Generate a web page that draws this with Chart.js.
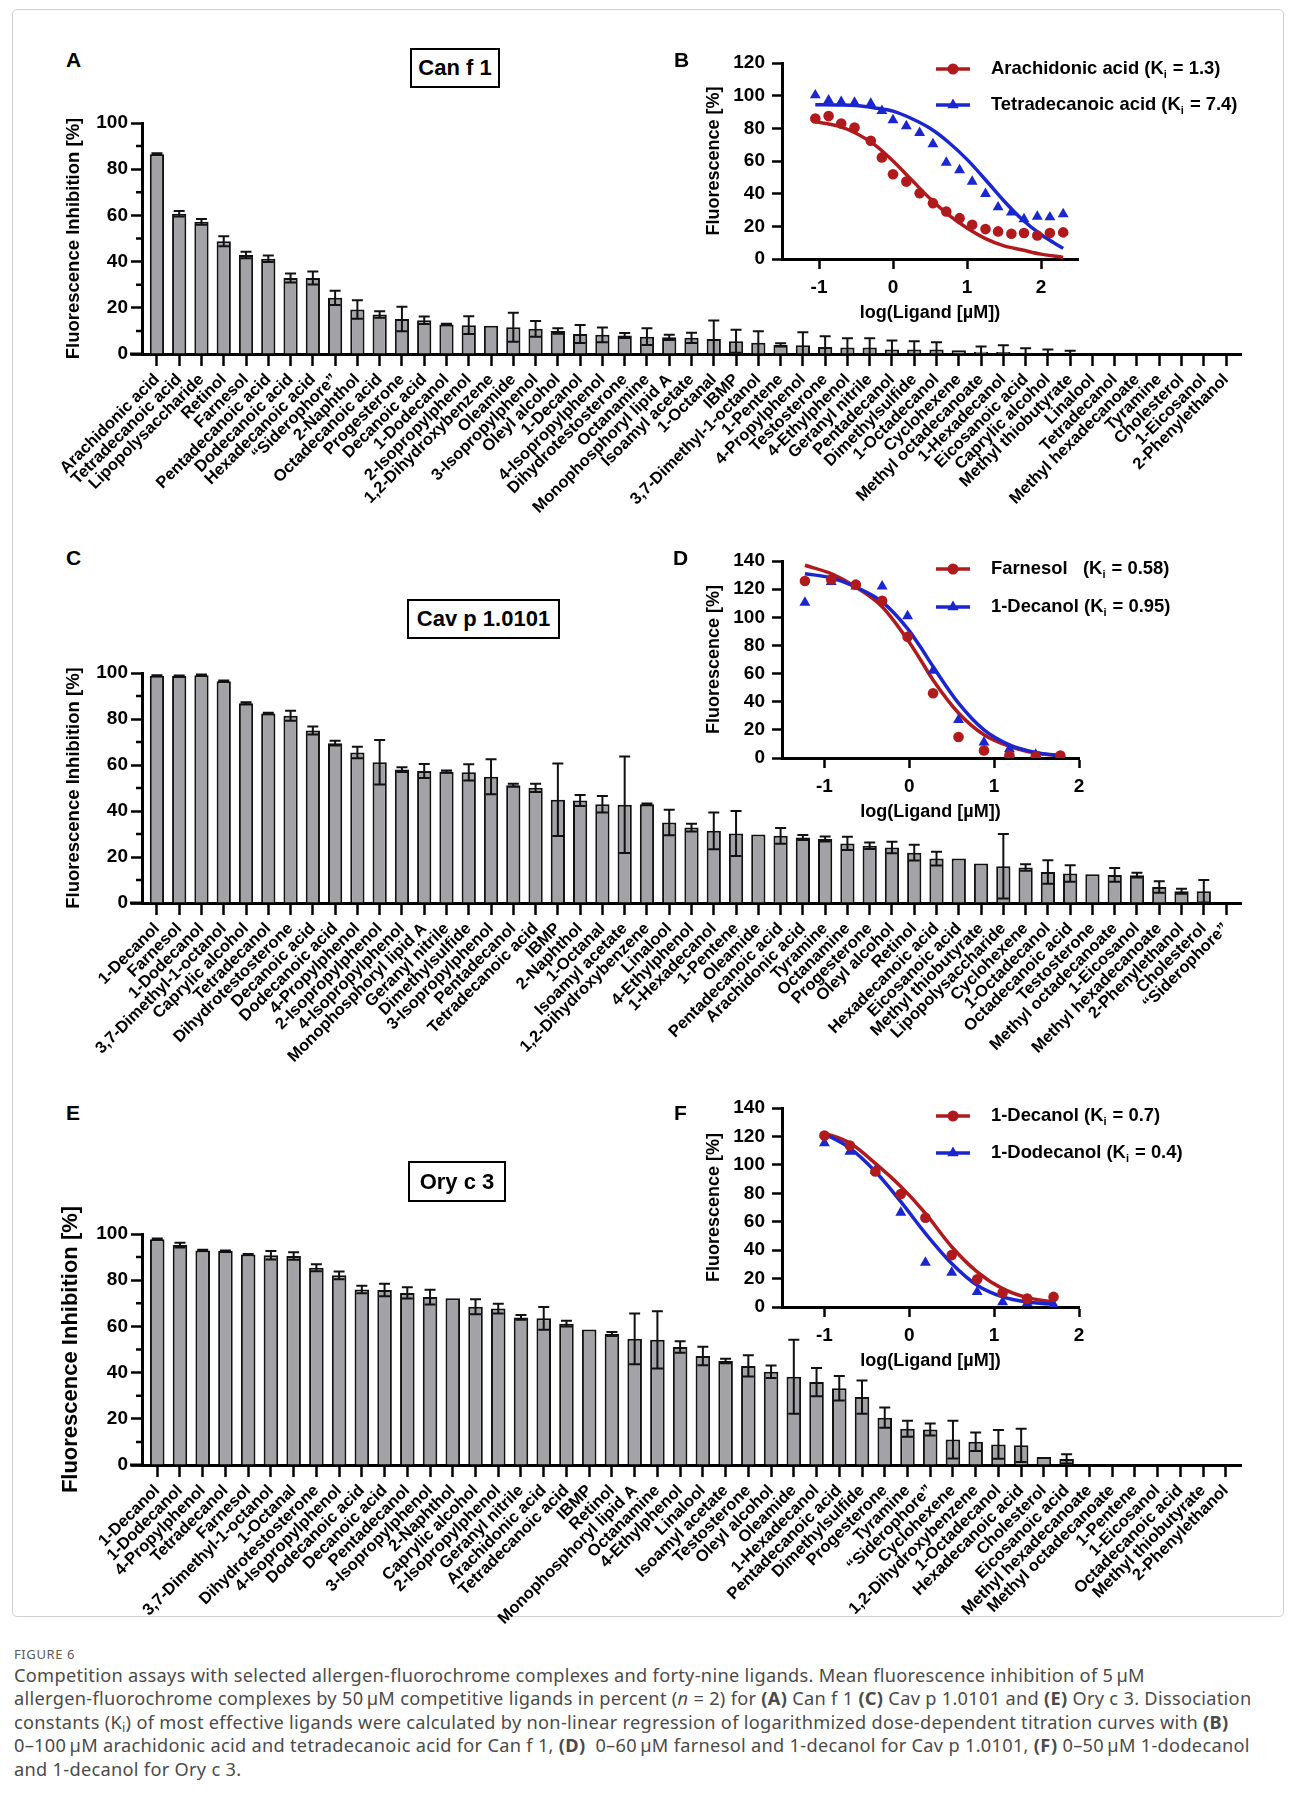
<!DOCTYPE html>
<html>
<head>
<meta charset="utf-8">
<title>Figure 6</title>
<script src="https://cdn.jsdelivr.net/npm/chart.js@4.4.1/dist/chart.umd.min.js"></script>
<style>
  body { margin: 0; background: #fff; }
  #page { position: relative; width: 1295px; height: 1803px; overflow: hidden; font-family: "Liberation Sans", Arial, sans-serif; color: #000; }
  .frame { position: absolute; left: 12px; top: 9px; width: 1270px; height: 1606px; border: 1px solid #cfcfcf; border-radius: 5px; }
  .box { position: absolute; }
  .box canvas { display: block; }
  .letter { position: absolute; font-weight: bold; font-size: 21px; line-height: 21px; }
  .tbox { position: absolute; border: 2px solid #000; box-sizing: border-box; font-weight: bold; font-size: 22px; display: flex; align-items: center; justify-content: center; }
  .figno { position: absolute; left: 14px; top: 1645px; font-family: "Noto Sans", sans-serif; font-size: 13px; letter-spacing: 0.6px; color: #5a5a5a; }
  .caption { position: absolute; left: 14px; top: 1664px; font-family: "Noto Sans", sans-serif; font-size: 18.2px; letter-spacing: 0.3px; line-height: 23.4px; color: #4a4a4a; white-space: nowrap; }
  .caption sub { font-size: 0.7em; line-height: 0; vertical-align: -0.25em; }
</style>
</head>
<body>
<div id="page">
  <div class="frame"></div>

  <div class="box" style="left:20px;top:100px"><canvas id="chartA" width="1240" height="440"></canvas></div>
  <div class="box" style="left:20px;top:640px"><canvas id="chartC" width="1240" height="440"></canvas></div>
  <div class="box" style="left:20px;top:1200px"><canvas id="chartE" width="1240" height="440"></canvas></div>
  <div class="box" style="left:700px;top:40px"><canvas id="chartB" width="560" height="291"></canvas></div>
  <div class="box" style="left:700px;top:530px"><canvas id="chartD" width="560" height="300"></canvas></div>
  <div class="box" style="left:700px;top:1080px"><canvas id="chartF" width="560" height="299"></canvas></div>

  <div class="letter" style="left:66px;top:49px">A</div>
  <div class="letter" style="left:674px;top:49px">B</div>
  <div class="letter" style="left:66px;top:547px">C</div>
  <div class="letter" style="left:673px;top:547px">D</div>
  <div class="letter" style="left:66px;top:1102px">E</div>
  <div class="letter" style="left:674px;top:1102px">F</div>

  <div class="tbox" style="left:410px;top:48px;width:90px;height:40px">Can f 1</div>
  <div class="tbox" style="left:407px;top:599px;width:153px;height:40px">Cav p 1.0101</div>
  <div class="tbox" style="left:408px;top:1161px;width:98px;height:41px">Ory c 3</div>

  <div class="figno">FIGURE 6</div>
  <div class="caption">
    <div>Competition assays with selected allergen-fluorochrome complexes and forty-nine ligands. Mean fluorescence inhibition of 5&thinsp;µM</div>
    <div>allergen-fluorochrome complexes by 50&thinsp;µM competitive ligands in percent (<i>n</i> = 2) for <b>(A)</b> Can f 1 <b>(C)</b> Cav p 1.0101 and <b>(E)</b> Ory c 3. Dissociation</div>
    <div>constants (K<sub>i</sub>) of most effective ligands were calculated by non-linear regression of logarithmized dose-dependent titration curves with <b>(B)</b></div>
    <div>0–100&thinsp;µM arachidonic acid and tetradecanoic acid for Can f 1, <b>(D)</b>&nbsp; 0–60&thinsp;µM farnesol and 1-decanol for Cav p 1.0101, <b>(F)</b> 0–50&thinsp;µM 1-dodecanol</div>
    <div>and 1-decanol for Ory c 3.</div>
  </div>
</div>

<script>
// ---------- Panel A: Can f 1 ----------
const canfLigands = ['Arachidonic acid', 'Tetradecanoic acid', 'Lipopolysaccharide', 'Retinol', 'Farnesol',
  'Pentadecanoic acid', 'Dodecanoic acid', 'Hexadecanoic acid', '\u201CSiderophore\u201D', '2-Naphthol',
  'Octadecanoic acid', 'Progesterone', 'Decanoic acid', '1-Dodecanol', '2-Isopropylphenol',
  '1,2-Dihydroxybenzene', 'Oleamide', '3-Isopropylphenol', 'Oleyl alcohol', '1-Decanol',
  '4-Isopropylphenol', 'Dihydrotestosterone', 'Octanamine', 'Monophosphoryl lipid A', 'Isoamyl acetate',
  '1-Octanal', 'IBMP', '3,7-Dimethyl-1-octanol', '1-Pentene', '4-Propylphenol',
  'Testosterone', '4-Ethylphenol', 'Geranyl nitrile', 'Pentadecanol', 'Dimethylsulfide',
  '1-Octadecanol', 'Cyclohexene', 'Methyl octadecanoate', '1-Hexadecanol', 'Eicosanoic acid',
  'Caprylic alcohol', 'Methyl thiobutyrate', 'Linalool', 'Tetradecanol', 'Methyl hexadecanoate',
  'Tyramine', 'Cholesterol', '1-Eicosanol', '2-Phenylethanol'];
const canfMean = [86.5, 60.7, 57.2, 48.8, 42.9, 41.2, 32.9, 32.9, 24.3, 19.3,
  17.1, 15.2, 14.6, 12.8, 12.5, 12.2, 11.6, 10.9, 10.0, 8.7,
  8.3, 8.0, 7.5, 7.2, 7.0, 6.5, 5.5, 4.9, 3.9, 3.8,
  3.0, 2.8, 2.8, 2.0, 2.0, 1.9, 1.6, 1.0, 0.9, 0.5,
  0.2, 0, 0, 0, 0, 0, 0, 0, 0];
const canfErr = [0.4, 1.2, 1.2, 2.2, 1.4, 1.4, 1.9, 2.8, 3.1, 4.0,
  1.4, 5.3, 1.6, 0.3, 3.8, 0, 6.3, 3.4, 1.2, 3.9,
  3.2, 1.1, 3.6, 1.1, 2.2, 8.0, 5.0, 5.0, 0.7, 5.6,
  4.7, 4.0, 4.0, 3.8, 3.5, 3.2, 0, 2.3, 2.9, 2.0,
  1.7, 1.4, 0, 0, 0, 0, 0, 0, 0];

// ---------- Panel C: Cav p 1.0101 ----------
const cavpLigands = ['1-Decanol', 'Farnesol', '1-Dodecanol', '3,7-Dimethyl-1-octanol', 'Caprylic alcohol',
  'Tetradecanol', 'Dihydrotestosterone', 'Decanoic acid', 'Dodecanoic acid', '4-Propylphenol',
  '2-Isopropylphenol', '4-Isopropylphenol', 'Monophosphoryl lipid A', 'Geranyl nitrile', 'Dimethylsulfide',
  '3-Isopropylphenol', 'Pentadecanol', 'Tetradecanoic acid', 'IBMP', '2-Naphthol',
  '1-Octanal', 'Isoamyl acetate', '1,2-Dihydroxybenzene', 'Linalool', '4-Ethylphenol',
  '1-Hexadecanol', '1-Pentene', 'Oleamide', 'Pentadecanoic acid', 'Arachidonic acid',
  'Tyramine', 'Octanamine', 'Progesterone', 'Oleyl alcohol', 'Retinol',
  'Hexadecanoic acid', 'Eicosanoic acid', 'Methyl thiobutyrate', 'Lipopolysaccharide', 'Cyclohexene',
  '1-Octadecanol', 'Octadecanoic acid', 'Testosterone', 'Methyl octadecanoate', '1-Eicosanol',
  'Methyl hexadecanoate', '2-Phenylethanol', 'Cholesterol', '\u201CSiderophore\u201D'];
const cavpMean = [98.8, 98.7, 99.0, 96.4, 86.8, 82.4, 81.4, 75.0, 69.5, 65.4,
  61.2, 58.0, 57.4, 57.1, 56.8, 54.9, 51.2, 50.1, 44.9, 44.6,
  42.9, 42.7, 42.9, 35.0, 32.8, 31.4, 30.2, 29.8, 29.2, 28.5,
  27.8, 25.9, 24.9, 24.1, 21.9, 19.3, 19.3, 17.2, 16.0, 15.4,
  13.5, 12.8, 12.5, 12.2, 12.1, 7.0, 5.1, 5.1, 0];
const cavpErr = [0.2, 0.2, 0.3, 0.3, 0.5, 0.3, 2.2, 1.7, 1.0, 2.5,
  9.7, 1.0, 3.0, 0.5, 3.5, 7.6, 0.7, 1.8, 15.8, 2.4,
  3.6, 21.0, 0.4, 5.5, 1.7, 8.0, 9.8, 0, 3.4, 1.1,
  1.1, 2.9, 1.4, 2.5, 3.4, 3.0, 0, 0, 14.0, 1.4,
  5.1, 3.6, 0, 3.0, 1.0, 2.5, 1.1, 4.9, 0];

// ---------- Panel E: Ory c 3 ----------
const orycLigands = ['1-Decanol', '1-Dodecanol', '4-Propylphenol', 'Tetradecanol', 'Farnesol',
  '3,7-Dimethyl-1-octanol', '1-Octanal', 'Dihydrotestosterone', '4-Isopropylphenol', 'Dodecanoic acid',
  'Decanoic acid', 'Pentadecanol', '3-Isopropylphenol', '2-Naphthol', 'Caprylic alcohol',
  '2-Isopropylphenol', 'Geranyl nitrile', 'Arachidonic acid', 'Tetradecanoic acid', 'IBMP',
  'Retinol', 'Monophosphoryl lipid A', 'Octanamine', '4-Ethylphenol', 'Linalool',
  'Isoamyl acetate', 'Testosterone', 'Oleyl alcohol', 'Oleamide', '1-Hexadecanol',
  'Pentadecanoic acid', 'Dimethylsulfide', 'Progesterone', 'Tyramine', '\u201CSiderophore\u201D',
  'Cyclohexene', '1,2-Dihydroxybenzene', '1-Octadecanol', 'Hexadecanoic acid', 'Cholesterol',
  'Eicosanoic acid', 'Methyl hexadecanoate', 'Methyl octadecanoate', '1-Pentene', '1-Eicosanol',
  'Octadecanoic acid', 'Methyl thiobutyrate', '2-Phenylethanol'];
const orycMean = [97.7, 95.2, 92.9, 92.6, 91.1, 90.8, 90.5, 85.4, 82.1, 76.0,
  75.8, 74.5, 72.7, 72.2, 68.5, 67.7, 63.9, 63.5, 61.2, 58.7,
  56.7, 54.6, 54.2, 51.1, 47.2, 45.0, 42.9, 40.4, 38.2, 35.9,
  33.2, 29.4, 20.5, 15.7, 15.4, 11.0, 10.1, 8.9, 8.5, 3.5,
  2.6, 0, 0, 0, 0, 0, 0, 0];
const orycErr = [0.3, 1.0, 0.3, 0.3, 0.2, 1.8, 1.6, 1.5, 1.7, 1.6,
  2.7, 2.4, 3.2, 0, 3.2, 2.1, 1.0, 4.9, 1.2, 0,
  0.9, 11.0, 12.4, 2.5, 4.0, 1.0, 4.6, 2.7, 16.0, 6.1,
  5.3, 7.2, 4.4, 3.5, 2.6, 8.2, 4.0, 6.2, 7.2, 0,
  2.0, 0, 0, 0, 0, 0, 0, 0];

const pctTicksMinor = [10, 30, 50, 70, 90];
const logTicks = [-1, 0, 1, 2];

// ---------- Panel B: Can f 1 titration ----------
const bLogConc = [-1.05, -0.87, -0.70, -0.52, -0.30, -0.15, 0.0, 0.18, 0.36, 0.54,
  0.72, 0.90, 1.07, 1.25, 1.42, 1.60, 1.77, 1.95, 2.12, 2.30];
const bArachidonic = [86.0, 87.5, 83.0, 80.5, 72.4, 62.2, 51.9, 47.4, 40.3, 34.2,
  29.1, 25.0, 20.9, 18.3, 16.9, 15.5, 15.9, 14.4, 15.9, 16.3];
const bTetradecanoic = [100.3, 97.2, 96.2, 95.8, 95.2, 90.7, 85.0, 81.4, 77.3, 70.4,
  59.0, 54.5, 47.4, 39.9, 31.7, 28.5, 24.4, 26.0, 25.6, 27.5];
const bFitX = [-1.05, -0.75, -0.5, -0.25, 0, 0.25, 0.5, 0.75, 1, 1.25, 1.5, 1.75, 2, 2.3];
const bFitArachidonic = [84, 81.5, 77, 70, 60, 48.5, 37, 27, 19, 12.5, 8, 5.5, 3, 1];
const bFitTetradecanoic = [94.5, 94.3, 94, 92.5, 90.5, 86, 80, 71.5, 61, 48.5, 35.5, 24, 15, 6.5];
const bNames = ['Arachidonic acid ', 'Tetradecanoic acid '];
const bKi = ['1.3', '7.4'];

// ---------- Panel D: Cav p 1.0101 titration ----------
const dLogConc = [-1.23, -0.92, -0.63, -0.32, -0.02, 0.28, 0.58, 0.88, 1.18, 1.49, 1.78];
const dFarnesol = [125.8, 126.8, 123.2, 111.7, 86.2, 46.0, 14.9, 5.4, 1.7, 1.2, 1.7];
const dDecanol = [110.5, 125.1, 122.0, 122.0, 100.8, 62.1, 27.1, 11.1, 6.4, 2.4, 0.5];
const dFitX = [-1.23, -0.92, -0.63, -0.32, -0.02, 0.13, 0.28, 0.58, 0.88, 1.18, 1.49, 1.78];
const dFitFarnesol = [137, 131, 121.5, 107.5, 84, 70, 55.5, 32, 16.5, 8.3, 3.5, 1.7];
const dFitDecanol = [131, 128, 121.5, 111, 92, 79, 65, 39, 20, 9.4, 4, 1.7];
const dNames = ['Farnesol   ', '1-Decanol '];
const dKi = ['0.58', '0.95'];

// ---------- Panel F: Ory c 3 titration ----------
const fLogConc = [-1.0, -0.7, -0.4, -0.1, 0.19, 0.5, 0.8, 1.1, 1.39, 1.7];
const fDecanol = [120.7, 113.6, 95.3, 79.5, 62.8, 36.5, 19.5, 10.1, 5.9, 7.1];
const fDodecanol = [115.3, 109.4, 96.0, 66.4, 31.3, 24.2, 10.6, 3.5, 2.8, 1.6];
const fFitDecanol = [122.4, 115.3, 101, 84.7, 65.9, 42.4, 24.7, 12.9, 6.6, 3.5];
const fFitDodecanol = [121.9, 111.8, 95.3, 74.1, 51.8, 30.6, 15.3, 7.1, 3.5, 1.9];
const fNames = ['1-Decanol ', '1-Dodecanol '];
const fKi = ['0.7', '0.4'];


const FONT = '"Liberation Sans", Arial, sans-serif';
const RED = '#b01a1d';
const BLUE = '#1a26cf';
const BAR_GREY = '#a2a2a7';


// error bars drawn from the y scale of the chart
const errorBars = {
  id: 'errorBars',
  afterDatasetsDraw(chart) {
    const ds = chart.data.datasets[0];
    const meta = chart.getDatasetMeta(0);
    const y = chart.scales.y;
    const ctx = chart.ctx;
    ctx.save();
    ctx.strokeStyle = '#111';
    ctx.lineWidth = 2;
    meta.data.forEach((bar, i) => {
      const e = ds.errors[i];
      if (!e) return;
      const v = ds.data[i].y;
      const top = y.getPixelForValue(v + e);
      const bot = y.getPixelForValue(Math.max(0, v - e));
      ctx.beginPath();
      ctx.moveTo(bar.x, top); ctx.lineTo(bar.x, bot);
      ctx.moveTo(bar.x - 5.5, top); ctx.lineTo(bar.x + 5.5, top);
      if (v - e > 0) { ctx.moveTo(bar.x - 5.5, bot); ctx.lineTo(bar.x + 5.5, bot); }
      ctx.stroke();
    });
    ctx.restore();
  }
};

// minor y ticks + the little x-axis stub left of the y axis (prism style)
const prismAxis = {
  id: 'prismAxis',
  afterDraw(chart, args, opts) {
    const {ctx, chartArea: a} = chart;
    const y = chart.scales.y;
    ctx.save();
    ctx.strokeStyle = '#000';
    ctx.lineWidth = 2.5;
    ctx.beginPath();
    (opts.minor || []).forEach(v => {
      const py = y.getPixelForValue(v);
      ctx.moveTo(a.left - 6, py); ctx.lineTo(a.left, py);
    });
    ctx.stroke();
    if (opts.stub) {
      ctx.lineWidth = 3;
      ctx.beginPath();
      ctx.moveTo(a.left - opts.stub, a.bottom); ctx.lineTo(a.left, a.bottom);
      ctx.stroke();
    }
    ctx.restore();
  }
};

// legend with line + marker and a subscript i
const insetLegend = {
  id: 'insetLegend',
  afterDraw(chart, args, opts) {
    if (!opts.items) return;
    const ctx = chart.ctx;
    ctx.save();
    opts.items.forEach((it, k) => {
      const y = opts.rows[k];
      ctx.strokeStyle = it.color;
      ctx.lineWidth = 3.5;
      ctx.beginPath(); ctx.moveTo(opts.x0, y); ctx.lineTo(opts.x1, y); ctx.stroke();
      ctx.fillStyle = it.color;
      const cx = (opts.x0 + opts.x1) / 2;
      ctx.beginPath();
      if (it.style === 'circle') {
        ctx.arc(cx, y, 5.5, 0, Math.PI * 2);
      } else {
        const r = 6.5;
        for (let j = 0; j < 3; j++) {
          const ang = j * 2 * Math.PI / 3;
          const px = cx + Math.sin(ang) * r, py = y - Math.cos(ang) * r;
          j === 0 ? ctx.moveTo(px, py) : ctx.lineTo(px, py);
        }
        ctx.closePath();
      }
      ctx.fill();

      ctx.fillStyle = '#000';
      ctx.textBaseline = 'middle';
      let tx = opts.tx;
      const a = it.name + '(K';
      ctx.font = 'bold 18.4px ' + FONT;
      ctx.fillText(a, tx, y);
      tx += ctx.measureText(a).width;
      ctx.font = 'bold 11px ' + FONT;
      ctx.fillText('i', tx, y + 6);
      tx += ctx.measureText('i').width + 1;
      ctx.font = 'bold 18.4px ' + FONT;
      ctx.fillText(' = ' + it.ki + ')', tx, y);
    });
    ctx.restore();
  }
};


function barChart(id, names, means, errs, o) {
  const n = names.length;
  return new Chart(document.getElementById(id), {
    type: 'bar',
    data: {
      datasets: [{
        data: means.map((v, i) => ({x: i, y: v})),
        errors: errs,
        backgroundColor: BAR_GREY,
        borderColor: '#111',
        borderWidth: 2,
        barPercentage: 0.64,
        categoryPercentage: 1
      }]
    },
    options: {
      responsive: false,
      animation: false,
      events: [],
      layout: { padding: { top: o.padTop, right: 19, left: 0, bottom: 0 } },
      plugins: {
        legend: { display: false },
        tooltip: { enabled: false },
        prismAxis: { minor: pctTicksMinor, stub: 12 }
      },
      scales: {
        x: {
          type: 'linear',
          min: -0.67,
          max: n - 1 + 0.67,
          offset: false,
          border: { display: true, color: '#000', width: 3 },
          grid: { display: true, offset: false, drawOnChartArea: false, drawTicks: true, tickLength: 12, tickWidth: 2.5, tickColor: '#000' },
          ticks: {
            stepSize: 1, includeBounds: false, autoSkip: false,
            minRotation: 45, maxRotation: 45, padding: 4,
            color: '#000', font: { family: FONT, size: 16.5, weight: 'bold' },
            callback: v => names[Math.round(v)] ?? ''
          },
          afterFit: s => { s.height = o.xHeight; s.paddingLeft = 0; s.paddingRight = 0; }
        },
        y: {
          min: 0, max: 100,
          border: { display: true, color: '#000', width: 3 },
          grid: { display: true, drawOnChartArea: false, drawTicks: true, tickLength: 11, tickWidth: 2.5, tickColor: '#000' },
          ticks: { stepSize: 20, padding: 3, color: '#000', font: { family: FONT, size: 19, weight: 'bold' } },
          title: {
            display: true, text: 'Fluorescence Inhibition [%]', color: '#000',
            font: { family: FONT, size: o.titleSize, weight: 'bold' },
            padding: { top: o.titlePad, bottom: 0 }
          },
          afterFit: s => { s.width = 122; }
        }
      }
    },
    plugins: [errorBars, prismAxis]
  });
}


function pts(xs, ys) {
  return xs.map((x, i) => ({x: x, y: ys[i]}));
}

function insetChart(id, o) {
  return new Chart(document.getElementById(id), {
    type: 'scatter',
    data: {
      datasets: [
        { data: pts(o.x, o.red), pointStyle: 'circle', pointRadius: 5.3, backgroundColor: RED, borderWidth: 0, pointBorderWidth: 0 },
        { data: pts(o.x, o.blue), pointStyle: 'triangle', pointRadius: 6.3, backgroundColor: BLUE, borderWidth: 0, pointBorderWidth: 0 },
        { data: pts(o.fitX, o.blueFit), showLine: true, pointRadius: 0, borderColor: BLUE, borderWidth: 3.5, cubicInterpolationMode: 'monotone' },
        { data: pts(o.fitX, o.redFit), showLine: true, pointRadius: 0, borderColor: RED, borderWidth: 3.5, cubicInterpolationMode: 'monotone' }
      ]
    },
    options: {
      responsive: false,
      animation: false,
      events: [],
      layout: { padding: { top: o.padTop, right: o.padRight, left: 0, bottom: 0 } },
      plugins: {
        legend: { display: false },
        tooltip: { enabled: false },
        insetLegend: {
          x0: 236, x1: 270, tx: 291, rows: o.rows,
          items: [
            { color: RED, style: 'circle', name: o.names[0], ki: o.ki[0] },
            { color: BLUE, style: 'triangle', name: o.names[1], ki: o.ki[1] }
          ]
        }
      },
      scales: {
        x: {
          type: 'linear', min: -1.5, max: o.xMax,
          border: { display: true, color: '#000', width: 3 },
          grid: { display: true, drawOnChartArea: false, drawTicks: true, tickLength: 10, tickWidth: 2.5, tickColor: '#000' },
          ticks: { maxRotation: 0, padding: 7, color: '#000', font: { family: FONT, size: 19, weight: 'bold' } },
          afterBuildTicks: s => { s.ticks = logTicks.map(v => ({value: v})); },
          title: { display: true, text: 'log(Ligand [µM])', color: '#000', font: { family: FONT, size: 18, weight: 'bold' }, padding: { top: 0, bottom: 7 } },
          afterFit: s => { s.height = 72; s.paddingLeft = 0; s.paddingRight = 0; }
        },
        y: {
          min: 0, max: o.yMax,
          border: { display: true, color: '#000', width: 3 },
          grid: { display: true, drawOnChartArea: false, drawTicks: true, tickLength: 10, tickWidth: 2.5, tickColor: '#000' },
          ticks: { stepSize: 20, padding: 7, color: '#000', font: { family: FONT, size: 19, weight: 'bold' } },
          title: { display: true, text: 'Fluorescence [%]', color: '#000', font: { family: FONT, size: 18, weight: 'bold' }, padding: { top: 3, bottom: 0 } },
          afterFit: s => { s.width = 82; }
        }
      }
    },
    plugins: [insetLegend]
  });
}


barChart('chartA', canfLigands, canfMean, canfErr, { padTop: 23, xHeight: 186, titleSize: 18.5, titlePad: 43 });
barChart('chartC', cavpLigands, cavpMean, cavpErr, { padTop: 33, xHeight: 177, titleSize: 18.5, titlePad: 43 });
barChart('chartE', orycLigands, orycMean, orycErr, { padTop: 34, xHeight: 175, titleSize: 22, titlePad: 38 });

insetChart('chartB', {
  x: bLogConc, red: bArachidonic, blue: bTetradecanoic,
  fitX: bFitX, redFit: bFitArachidonic, blueFit: bFitTetradecanoic,
  names: bNames, ki: bKi,
  xMax: 2.5, yMax: 120, padTop: 23, padRight: 182, rows: [29, 65]
});
insetChart('chartD', {
  x: dLogConc, red: dFarnesol, blue: dDecanol,
  fitX: dFitX, redFit: dFitFarnesol, blueFit: dFitDecanol,
  names: dNames, ki: dKi,
  xMax: 2, yMax: 140, padTop: 31, padRight: 181, rows: [39, 77]
});
insetChart('chartF', {
  x: fLogConc, red: fDecanol, blue: fDodecanol,
  fitX: fLogConc, redFit: fFitDecanol, blueFit: fFitDodecanol,
  names: fNames, ki: fKi,
  xMax: 2, yMax: 140, padTop: 28, padRight: 181, rows: [36, 73]
});
</script>
</body>
</html>
